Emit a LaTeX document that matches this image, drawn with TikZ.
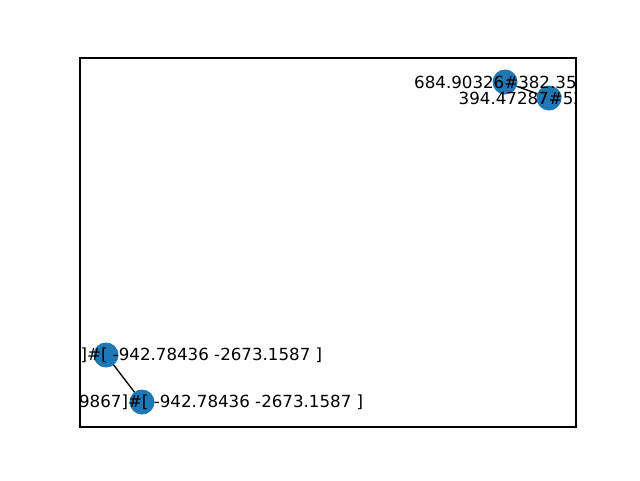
\documentclass[tikz,border=0pt]{standalone}
\usepackage{fontspec}
\setmainfont{DejaVu Sans}
\usetikzlibrary{backgrounds}
\definecolor{tabblue}{HTML}{1F77B4}
\tikzset{
  vert/.style={circle, fill=tabblue, draw=none, minimum size=25pt, inner sep=0pt},
  lbl/.style={inner sep=0pt, font=\fontsize{16.67pt}{20pt}\selectfont, text=black},
  edge/.style={draw=black, line width=1.3pt},
  frame/.style={draw=black, line width=1.1pt}
}
\begin{document}
\begin{tikzpicture}[x=1pt, y=-1pt]
\useasboundingbox (0,0) rectangle (640,480);
% vertices
\node[vert] (n1) at (505,82) {};
\node[vert] (n2) at (549,98) {};
\node[vert] (n3) at (106,355) {};
\node[vert] (n4) at (142,402) {};
% edges under vertices
\begin{scope}[on background layer]
\fill[white] (0,0) rectangle (640,480);
\draw[edge] (n1.center) -- (n2.center);
\draw[edge] (n3.center) -- (n4.center);
\end{scope}
% labels clipped to axes
\begin{scope}
\clip (80,58) rectangle (576,427);
\node[lbl, anchor=west] (l1) at (414,82) {684.90326\#382.35912};
\node[lbl, anchor=west] (l2) at (458.5,98) {394.47287\#521.06348};
\node[lbl, anchor=east] (l3) at (322.5,355) {[ 1530.4421 -873.92155 ]\#[ -942.78436 -2673.1587 ]};
\node[lbl, anchor=east] (l4) at (363.5,402) {[ 2417.0133 -1180.69867]\#[ -942.78436 -2673.1587 ]};
\end{scope}
% axes frame
\draw[frame] (80,58) rectangle (576,427);
\end{tikzpicture}
\end{document}
